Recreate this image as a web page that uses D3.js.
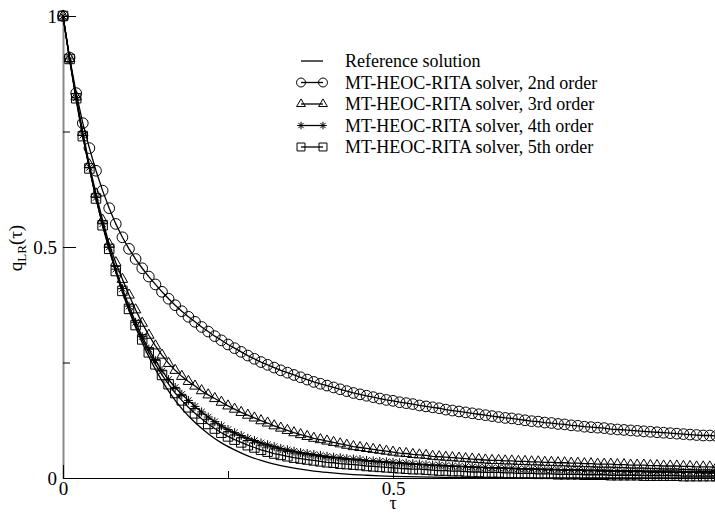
<!DOCTYPE html>
<html>
<head>
<meta charset="utf-8">
<script src="https://d3js.org/d3.v7.min.js"></script>
<style>
  html, body { margin: 0; padding: 0; background: #fff; }
  svg { display: block; font-family: "Liberation Serif", "Times New Roman", serif; }
</style>
</head>
<body>
<script>
// Sample grid for the solver outputs (one marker per step)
const tau = [
  0, 0.01, 0.02, 0.03, 0.04, 0.05, 0.06, 0.07, 0.08, 0.09,
  0.10, 0.11, 0.12, 0.13, 0.14, 0.15, 0.16, 0.17, 0.18, 0.19,
  0.20, 0.21, 0.22, 0.23, 0.24, 0.25, 0.26, 0.27, 0.28, 0.29,
  0.30, 0.31, 0.32, 0.33, 0.34, 0.35, 0.36, 0.37, 0.38, 0.39,
  0.40, 0.41, 0.42, 0.43, 0.44, 0.45, 0.46, 0.47, 0.48, 0.49,
  0.50, 0.51, 0.52, 0.53, 0.54, 0.55, 0.56, 0.57, 0.58, 0.59,
  0.60, 0.61, 0.62, 0.63, 0.64, 0.65, 0.66, 0.67, 0.68, 0.69,
  0.70, 0.71, 0.72, 0.73, 0.74, 0.75, 0.76, 0.77, 0.78, 0.79,
  0.80, 0.81, 0.82, 0.83, 0.84, 0.85, 0.86, 0.87, 0.88, 0.89,
  0.90, 0.91, 0.92, 0.93, 0.94, 0.95, 0.96, 0.97, 0.98, 0.99,
  1.00
];

// Reference solution grid
const tauRef = [
  0, 0.02, 0.04, 0.06, 0.08, 0.10, 0.12, 0.14, 0.16, 0.18,
  0.20, 0.22, 0.24, 0.26, 0.28, 0.30, 0.32, 0.34, 0.36, 0.38,
  0.40, 0.42, 0.44, 0.46, 0.48, 0.50, 0.52, 0.54, 0.56, 0.58,
  0.60, 0.62, 0.64, 0.66, 0.68, 0.70, 0.72, 0.74, 0.76, 0.78,
  0.80, 0.82, 0.84, 0.86, 0.88, 0.90, 0.92, 0.94, 0.96, 0.98, 1.00
];

const qRef = [
  1.000, 0.818, 0.670, 0.547, 0.446, 0.362, 0.293, 0.235, 0.188, 0.150,
  0.120, 0.096, 0.076, 0.061, 0.048, 0.038, 0.030, 0.024, 0.019, 0.015,
  0.012, 0.0095, 0.0075, 0.006, 0.0047, 0.0037, 0.0029, 0.0023, 0.0018, 0.0014,
  0.0011, 0.0009, 0.0007, 0.0005, 0.0004, 0.0003, 0.0003, 0.0002, 0.0002, 0.0002,
  0.0001, 0.0001, 0.0001, 0.0001, 0.0001, 0.0001, 0.0001, 0, 0, 0, 0
];

const q2nd = [
  1.000, 0.910, 0.833, 0.768, 0.714, 0.665, 0.622, 0.584, 0.550, 0.521,
  0.496, 0.474, 0.454, 0.436, 0.419, 0.403, 0.388, 0.374, 0.361, 0.349,
  0.338, 0.327, 0.317, 0.307, 0.298, 0.289, 0.281, 0.273, 0.265, 0.258,
  0.251, 0.245, 0.239, 0.233, 0.228, 0.223, 0.218, 0.213, 0.208, 0.204,
  0.200, 0.196, 0.192, 0.188, 0.184, 0.181, 0.178, 0.175, 0.172, 0.169,
  0.167, 0.164, 0.162, 0.160, 0.157, 0.155, 0.153, 0.151, 0.148, 0.146,
  0.144, 0.142, 0.140, 0.138, 0.136, 0.134, 0.132, 0.130, 0.129, 0.127,
  0.125, 0.123, 0.122, 0.120, 0.119, 0.117, 0.116, 0.114, 0.113, 0.111,
  0.110, 0.109, 0.108, 0.106, 0.105, 0.104, 0.103, 0.102, 0.101, 0.100,
  0.099, 0.098, 0.097, 0.096, 0.095, 0.094, 0.093, 0.092, 0.092, 0.091,
  0.090
];

const q3rd = [
  1.000, 0.908, 0.825, 0.748, 0.678, 0.615, 0.558, 0.506, 0.466, 0.430,
  0.396, 0.364, 0.335, 0.309, 0.286, 0.266, 0.248, 0.233, 0.220, 0.209,
  0.199, 0.189, 0.180, 0.172, 0.164, 0.156, 0.149, 0.142, 0.136, 0.130,
  0.124, 0.119, 0.113, 0.108, 0.103, 0.098, 0.094, 0.090, 0.086, 0.083,
  0.080, 0.077, 0.074, 0.071, 0.068, 0.066, 0.064, 0.062, 0.060, 0.058,
  0.056, 0.054, 0.053, 0.051, 0.050, 0.049, 0.047, 0.046, 0.045, 0.044,
  0.043, 0.042, 0.041, 0.040, 0.039, 0.038, 0.038, 0.037, 0.037, 0.036,
  0.036, 0.035, 0.035, 0.034, 0.034, 0.033, 0.033, 0.032, 0.032, 0.031,
  0.031, 0.030, 0.030, 0.030, 0.029, 0.029, 0.028, 0.028, 0.028, 0.027,
  0.027, 0.026, 0.026, 0.026, 0.025, 0.025, 0.024, 0.024, 0.024, 0.023,
  0.023
];

const q4th = [
  1.000, 0.907, 0.823, 0.742, 0.672, 0.607, 0.550, 0.500, 0.452, 0.410,
  0.372, 0.337, 0.306, 0.279, 0.254, 0.232, 0.213, 0.196, 0.181, 0.168,
  0.155, 0.143, 0.132, 0.122, 0.113, 0.105, 0.098, 0.092, 0.086, 0.081,
  0.076, 0.072, 0.068, 0.064, 0.061, 0.058, 0.055, 0.053, 0.051, 0.049,
  0.047, 0.045, 0.044, 0.042, 0.041, 0.040, 0.038, 0.037, 0.036, 0.035,
  0.034, 0.033, 0.032, 0.031, 0.030, 0.029, 0.028, 0.028, 0.027, 0.026,
  0.025, 0.025, 0.024, 0.023, 0.023, 0.022, 0.022, 0.021, 0.021, 0.020,
  0.020, 0.019, 0.019, 0.018, 0.018, 0.018, 0.017, 0.017, 0.017, 0.016,
  0.016, 0.016, 0.015, 0.015, 0.015, 0.014, 0.014, 0.014, 0.014, 0.013,
  0.013, 0.013, 0.013, 0.012, 0.012, 0.012, 0.012, 0.011, 0.011, 0.011,
  0.011
];

const q5th = [
  1.000, 0.907, 0.822, 0.740, 0.670, 0.605, 0.547, 0.496, 0.448, 0.405,
  0.366, 0.331, 0.300, 0.272, 0.246, 0.223, 0.203, 0.184, 0.168, 0.153,
  0.140, 0.128, 0.117, 0.107, 0.098, 0.090, 0.083, 0.077, 0.071, 0.066,
  0.061, 0.057, 0.053, 0.050, 0.047, 0.044, 0.042, 0.040, 0.038, 0.036,
  0.034, 0.033, 0.031, 0.030, 0.029, 0.028, 0.026, 0.025, 0.024, 0.023,
  0.022, 0.021, 0.020, 0.019, 0.019, 0.018, 0.017, 0.016, 0.016, 0.015,
  0.015, 0.014, 0.013, 0.013, 0.012, 0.012, 0.012, 0.011, 0.011, 0.010,
  0.010, 0.010, 0.009, 0.009, 0.009, 0.008, 0.008, 0.008, 0.008, 0.007,
  0.007, 0.007, 0.007, 0.006, 0.006, 0.006, 0.006, 0.006, 0.005, 0.005,
  0.005, 0.005, 0.005, 0.005, 0.004, 0.004, 0.004, 0.004, 0.004, 0.004,
  0.004
];

const legendLabels = [
  'Reference solution',
  'MT-HEOC-RITA solver, 2nd order',
  'MT-HEOC-RITA solver, 3rd order',
  'MT-HEOC-RITA solver, 4th order',
  'MT-HEOC-RITA solver, 5th order'
];

const xMajorTicks = [0, 0.5];
const xMinorTicks = [0.25];
const yMajorTicks = [0, 0.5, 1];
const yMinorTicks = [0.25, 0.75];

// Layout
const width = 715;
const height = 514;

const x = d3.scaleLinear().domain([0, 1]).range([63, 723]);
const y = d3.scaleLinear().domain([0, 1]).range([478, 16]);

const svg = d3.select('body').append('svg')
  .attr('width', width)
  .attr('height', height);

svg.append('rect')
  .attr('width', width)
  .attr('height', height)
  .attr('fill', '#fff');

// Asterisk symbol (plus + cross), like the grace "star"
const symbolAsterisk = {
  draw(ctx, size) {
    const r = Math.sqrt(size) / 2;
    const d = r * 0.7071;
    ctx.moveTo(-r, 0); ctx.lineTo(r, 0);
    ctx.moveTo(0, -r); ctx.lineTo(0, r);
    ctx.moveTo(-d, -d); ctx.lineTo(d, d);
    ctx.moveTo(-d, d); ctx.lineTo(d, -d);
  }
};

const series = [
  { xs: tauRef, ys: qRef, symbol: null, size: 0 },
  { xs: tau, ys: q2nd, symbol: d3.symbolCircle, size: 90 },
  { xs: tau, ys: q3rd, symbol: d3.symbolTriangle, size: 48 },
  { xs: tau, ys: q4th, symbol: symbolAsterisk, size: 81 },
  { xs: tau, ys: q5th, symbol: d3.symbolSquare, size: 90 }
];

// Y axis (grey spine, ticks pointing inward)
const yAxis = svg.append('g')
  .attr('transform', `translate(${x(0)},0)`)
  .call(d3.axisLeft(y).tickValues(yMajorTicks).tickSize(-13).tickSizeOuter(0).tickPadding(6)
    .tickFormat(d3.format('')));
yAxis.select('.domain').attr('stroke', '#8a8a8a').attr('stroke-width', 2);
yAxis.selectAll('.tick line').attr('stroke', '#000');
yAxis.selectAll('.tick text')
  .attr('font-size', 19)
  .attr('font-family', '"Liberation Serif", "Times New Roman", serif')
  .attr('fill', '#000');

svg.append('g')
  .attr('transform', `translate(${x(0)},0)`)
  .call(d3.axisLeft(y).tickValues(yMinorTicks).tickSize(-7).tickFormat(''))
  .call(g => g.select('.domain').remove());

// X axis
const xAxis = svg.append('g')
  .attr('transform', `translate(0,${y(0)})`)
  .call(d3.axisBottom(x).tickValues(xMajorTicks).tickSize(-13).tickSizeOuter(0).tickPadding(4)
    .tickFormat(d3.format('')));
xAxis.select('.domain').attr('stroke', '#000').attr('stroke-width', 1.2);
xAxis.selectAll('.tick text')
  .attr('font-size', 19)
  .attr('font-family', '"Liberation Serif", "Times New Roman", serif')
  .attr('fill', '#000');

svg.append('g')
  .attr('transform', `translate(0,${y(0)})`)
  .call(d3.axisBottom(x).tickValues(xMinorTicks).tickSize(-7).tickFormat(''))
  .call(g => g.select('.domain').remove());

// Curves and markers
const plot = svg.append('g');
const line = d3.line().x(d => x(d[0])).y(d => y(d[1]));

series.forEach(s => {
  const pts = s.xs.map((t, i) => [t, s.ys[i]]);
  plot.append('path')
    .datum(pts)
    .attr('d', s.symbol ? line : line.curve(d3.curveMonotoneX))
    .attr('fill', 'none')
    .attr('stroke', '#000')
    .attr('stroke-width', 1.3);
  line.curve(d3.curveLinear);

  if (s.symbol) {
    plot.append('g').selectAll('path')
      .data(pts)
      .enter().append('path')
      .attr('transform', d => `translate(${x(d[0])},${y(d[1])})`)
      .attr('d', d3.symbol().type(s.symbol).size(s.size))
      .attr('fill', 'none')
      .attr('stroke', '#000')
      .attr('stroke-width', 1);
  }
});

// Legend
const legend = svg.append('g');
const rowY = [61, 82.5, 104, 125.5, 147];

series.forEach((s, i) => {
  const row = legend.append('g').attr('transform', `translate(0,${rowY[i]})`);
  row.append('line')
    .attr('x1', 301).attr('x2', 323)
    .attr('stroke', '#000').attr('stroke-width', 1.3);
  if (s.symbol) {
    [301, 323].forEach(px => {
      row.append('path')
        .attr('transform', `translate(${px},0)`)
        .attr('d', d3.symbol().type(s.symbol).size(s.size * 0.7))
        .attr('fill', 'none')
        .attr('stroke', '#000');
    });
  }
  row.append('text')
    .attr('x', 345)
    .attr('y', 6)
    .attr('font-size', 18)
    .text(legendLabels[i]);
});

// Axis titles
svg.append('text')
  .attr('x', x(0.5))
  .attr('y', 509)
  .attr('text-anchor', 'middle')
  .attr('font-size', 18)
  .text('τ');

const yTitle = svg.append('text')
  .attr('transform', 'translate(22,248) rotate(-90)')
  .attr('text-anchor', 'middle')
  .attr('font-size', 19);
yTitle.append('tspan').text('q');
yTitle.append('tspan').attr('font-size', 13).attr('dy', 4).text('LR');
yTitle.append('tspan').attr('dy', -4).text('(τ)');
</script>
</body>
</html>
